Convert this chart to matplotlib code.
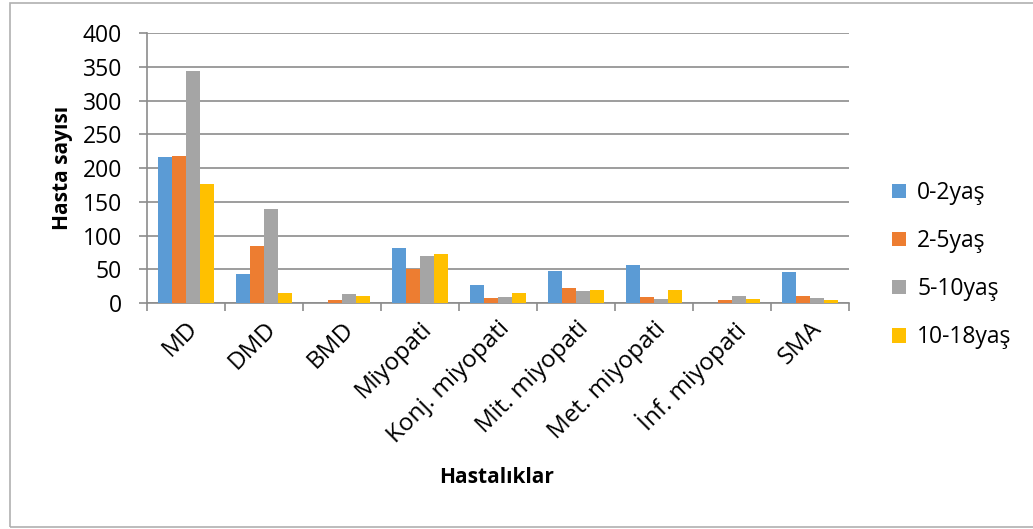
import numpy as np
import matplotlib
matplotlib.use("Agg")
import matplotlib.pyplot as plt
from matplotlib.patches import Rectangle

plt.rcParams['font.family'] = ['Open Sans', 'DejaVu Sans']

categories = ["MD", "DMD", "BMD", "Miyopati", "Konj. miyopati", "Mit. miyopati",
              "Met. miyopati", "İnf. miyopati", "SMA"]
series_names = ["0-2yaş", "2-5yaş", "5-10yaş", "10-18yaş"]
yas_0_2 = [216, 43, 0, 82, 26, 47, 56, 0, 46]
yas_2_5 = [218, 85, 5, 51, 8, 22, 9, 4, 10]
yas_5_10 = [343, 139, 13, 69, 9, 18, 6, 10, 8]
yas_10_18 = [176, 15, 10, 72, 15, 20, 19, 6, 5]
colors = ["#5B9BD5", "#ED7D31", "#A5A5A5", "#FFC000"]

fig = plt.figure(figsize=(10.33, 5.29), dpi=100)
ax = fig.add_axes([0.1423, 0.4272, 0.6796, 0.5104])

x = np.arange(len(categories))
w = 0.18
all_series = [yas_0_2, yas_2_5, yas_5_10, yas_10_18]
for i, (vals, name, c) in enumerate(zip(all_series, series_names, colors)):
    ax.bar(x + (i - 1.5) * w, vals, width=w, color=c, label=name, zorder=3)

ax.set_xlim(-0.5, len(categories) - 0.5)
ax.set_ylim(0, 400)
ax.set_yticks(range(0, 401, 50))
ax.yaxis.grid(True, color="#8c8c8c", linewidth=1.2, zorder=0)
ax.set_axisbelow(True)

# category labels between boundary ticks
ax.set_xticks(x)
ax.set_xticklabels(categories, rotation=45, ha="right", rotation_mode="anchor",
                   fontsize=17.5)
ax.tick_params(axis="x", length=0, pad=10)
ax.set_xticks(np.arange(-0.5, len(categories)), minor=True)
ax.tick_params(axis="x", which="minor", length=6, color="#8c8c8c", width=1.2)
ax.tick_params(axis="y", labelsize=16.5, length=6, color="#8c8c8c", width=1.2, pad=12)

for s in ["top", "right"]:
    ax.spines[s].set_visible(False)
for s in ["left", "bottom"]:
    ax.spines[s].set_color("#8c8c8c")
    ax.spines[s].set_linewidth(1.2)

ax.set_ylabel("Hasta sayısı", fontsize=15, fontweight="bold", va="center")
ax.yaxis.set_label_coords(-0.121, 0.5)
ax.set_xlabel("Hastalıklar", fontsize=15, fontweight="bold", va="center")
ax.xaxis.set_label_coords(0.4986, -0.648)

ax.legend(loc="center left", bbox_to_anchor=(1.032, 0.14), frameon=False,
          fontsize=16.5, handlelength=0.6, handleheight=0.6, labelspacing=1.05,
          handletextpad=0.5)

fig.patches.append(Rectangle((0.0097, 0.0038), 1.2, 0.99, transform=fig.transFigure,
                             fill=False, edgecolor="#b0b0b0", linewidth=1.2))

fig.savefig("out.png", dpi=100)
